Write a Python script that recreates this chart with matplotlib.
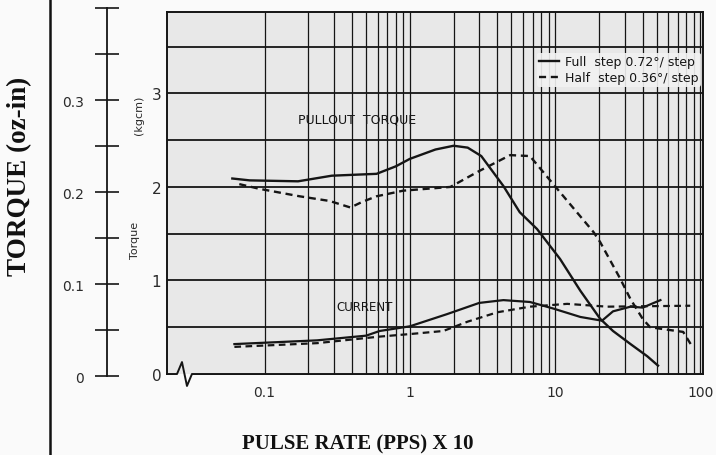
import numpy as np
import matplotlib.pyplot as plt
from matplotlib.lines import Line2D
from matplotlib.ticker import NullLocator

# pulse rate (PPS x 10) and torque (kgcm)
full_torque_x = [0.060, 0.079, 0.17, 0.29, 0.59, 0.80, 1.0, 1.5, 2.0, 2.5, 3.1,
                 4.4, 5.7, 7.5, 10.8, 14.9, 20.4, 25, 33, 43, 51]
full_torque_y = [2.09, 2.07, 2.06, 2.12, 2.14, 2.22, 2.30, 2.40, 2.44, 2.42, 2.33,
                 2.01, 1.73, 1.55, 1.23, 0.89, 0.59, 0.46, 0.32, 0.19, 0.09]

half_torque_x = [0.067, 0.092, 0.174, 0.28, 0.39, 0.47, 0.59, 0.90, 1.9, 3.0, 4.9,
                 6.7, 9.7, 11.4, 18.3, 20.4, 28, 33, 40, 45, 76, 88]
half_torque_y = [2.03, 1.98, 1.90, 1.85, 1.78, 1.84, 1.90, 1.96, 2.00, 2.17, 2.34,
                 2.33, 2.03, 1.90, 1.52, 1.41, 1.02, 0.80, 0.59, 0.50, 0.45, 0.29]

full_current_x = [0.062, 0.23, 0.50, 0.62, 1.0, 1.8, 3.0, 4.4, 6.7, 9.7, 14.9,
                  21, 25, 33, 40, 53]
full_current_y = [0.32, 0.36, 0.41, 0.46, 0.51, 0.64, 0.76, 0.79, 0.77, 0.70, 0.61,
                  0.57, 0.67, 0.72, 0.71, 0.79]

half_current_x = [0.062, 0.23, 0.62, 1.05, 1.7, 2.5, 4.0, 6.7, 12.1, 22.8, 85]
half_current_y = [0.29, 0.33, 0.40, 0.43, 0.46, 0.56, 0.66, 0.72, 0.75, 0.72, 0.73]

x_ticks = [0.1, 1, 10, 100]
x_tick_labels = ['0.1', '1', '10', '100']
y_ticks = [0, 1, 2, 3]
oz_ticks = [0, 0.1, 0.2, 0.3]
oz_minor = [0.05, 0.15, 0.25, 0.35, 0.4]

ink = '#151515'
txt = '#2a2a2a'

fig = plt.figure(figsize=(7.16, 4.56), dpi=100)
fig.patch.set_facecolor('#fafafa')

ax = fig.add_axes([0.2332, 0.1776, 0.7486, 0.7939])
ax.set_facecolor('#e8e8e8')
ax.set_xscale('log')
ax.set_xlim(0.0213, 104)
ax.set_ylim(0, 3.87)

# graph paper grid (nothing left of 0.1)
for v in np.arange(0.5, 3.6, 0.5):
    ax.axhline(v, color=ink, lw=1.3, zorder=1)
for e in (-1, 0, 1):
    for m in range(1, 10):
        ax.axvline(m * 10.0 ** e, color=ink, lw=0.9, zorder=1)
ax.axvline(100, color=ink, lw=0.9, zorder=1)

ax.plot(full_torque_x, full_torque_y, color=ink, lw=1.7, zorder=3,
        label='Full  step 0.72°/ step')
ax.plot(half_torque_x, half_torque_y, color=ink, lw=1.7, ls=(0, (3, 2)), zorder=3,
        label='Half  step 0.36°/ step')
ax.plot(full_current_x, full_current_y, color=ink, lw=1.6, zorder=3)
ax.plot(half_current_x, half_current_y, color=ink, lw=1.6, ls=(0, (3, 2)), zorder=3)

ax.text(0.43, 2.73, 'PULLOUT  TORQUE', ha='center', va='center', fontsize=9,
        color=ink, zorder=4)
ax.text(0.49, 0.72, 'CURRENT', ha='center', va='center', fontsize=8.5,
        color=ink, zorder=4)

leg = ax.legend(loc='upper right', bbox_to_anchor=(0.997, 0.888), fontsize=9,
                frameon=True, facecolor='#f2f2f2', edgecolor='none', framealpha=0.9,
                handlelength=1.6, handletextpad=0.5, labelspacing=0.25,
                borderpad=0.2, borderaxespad=0.0)
for t in leg.get_texts():
    t.set_color(ink)

ax.set_xticks(x_ticks)
ax.set_xticklabels(x_tick_labels)
ax.xaxis.set_minor_locator(NullLocator())
ax.set_yticks(y_ticks)
ax.tick_params(axis='both', length=0, labelsize=10, labelcolor=txt)
ax.tick_params(axis='x', pad=8)
ax.tick_params(axis='y', pad=4, labelsize=11)

for s in ['top', 'right', 'left']:
    ax.spines[s].set_color(ink)
    ax.spines[s].set_linewidth(1.4)
ax.spines['bottom'].set_visible(False)
# bottom line with the axis break zigzag
ax.plot([0, 0.0187, 0.028, 0.0373, 0.0466, 1], [0, 0, 0.033, -0.033, 0, 0],
        transform=ax.transAxes, color=ink, lw=1.4, clip_on=False, zorder=5)

# oz-in scale on the far left
ax2 = fig.add_axes([0.1494, 0.1732, 0.0001, 0.807])
ax2.patch.set_visible(False)
for s in ['top', 'right', 'bottom']:
    ax2.spines[s].set_visible(False)
ax2.spines['left'].set_color(ink)
ax2.spines['left'].set_linewidth(1.3)
ax2.set_ylim(0, 0.4)
ax2.set_xticks([])
ax2.set_yticks(oz_ticks)
ax2.set_yticklabels(['0', '0.1', '0.2', '0.3'])
ax2.set_yticks(oz_minor, minor=True)
ax2.tick_params(axis='y', which='both', direction='inout', length=17, width=1.2,
                color=ink, labelsize=10, labelcolor=txt, pad=8)

fig.text(135 / 716, 1 - 240 / 456, 'Torque', rotation=90, ha='center', va='center',
         fontsize=8, color=txt)
fig.text(139 / 716, 1 - 115 / 456, '(kgcm)', rotation=90, ha='center', va='center',
         fontsize=8, color=txt)

fig.text(20 / 716, 1 - 176 / 456, 'TORQUE (oz-in)', rotation=90, ha='center',
         va='center', fontsize=19.5, fontweight='bold', family='Liberation Serif',
         color='#111111')
fig.text(358 / 716, 1 - 444 / 456, 'PULSE RATE (PPS) X 10', ha='center',
         va='center', fontsize=15, fontweight='bold', family='Liberation Serif',
         color='#111111')

fig.add_artist(Line2D([50 / 716, 50 / 716], [0, 1], color='#111111', lw=1.8))

fig.savefig('out.png', dpi=100, facecolor=fig.get_facecolor())
